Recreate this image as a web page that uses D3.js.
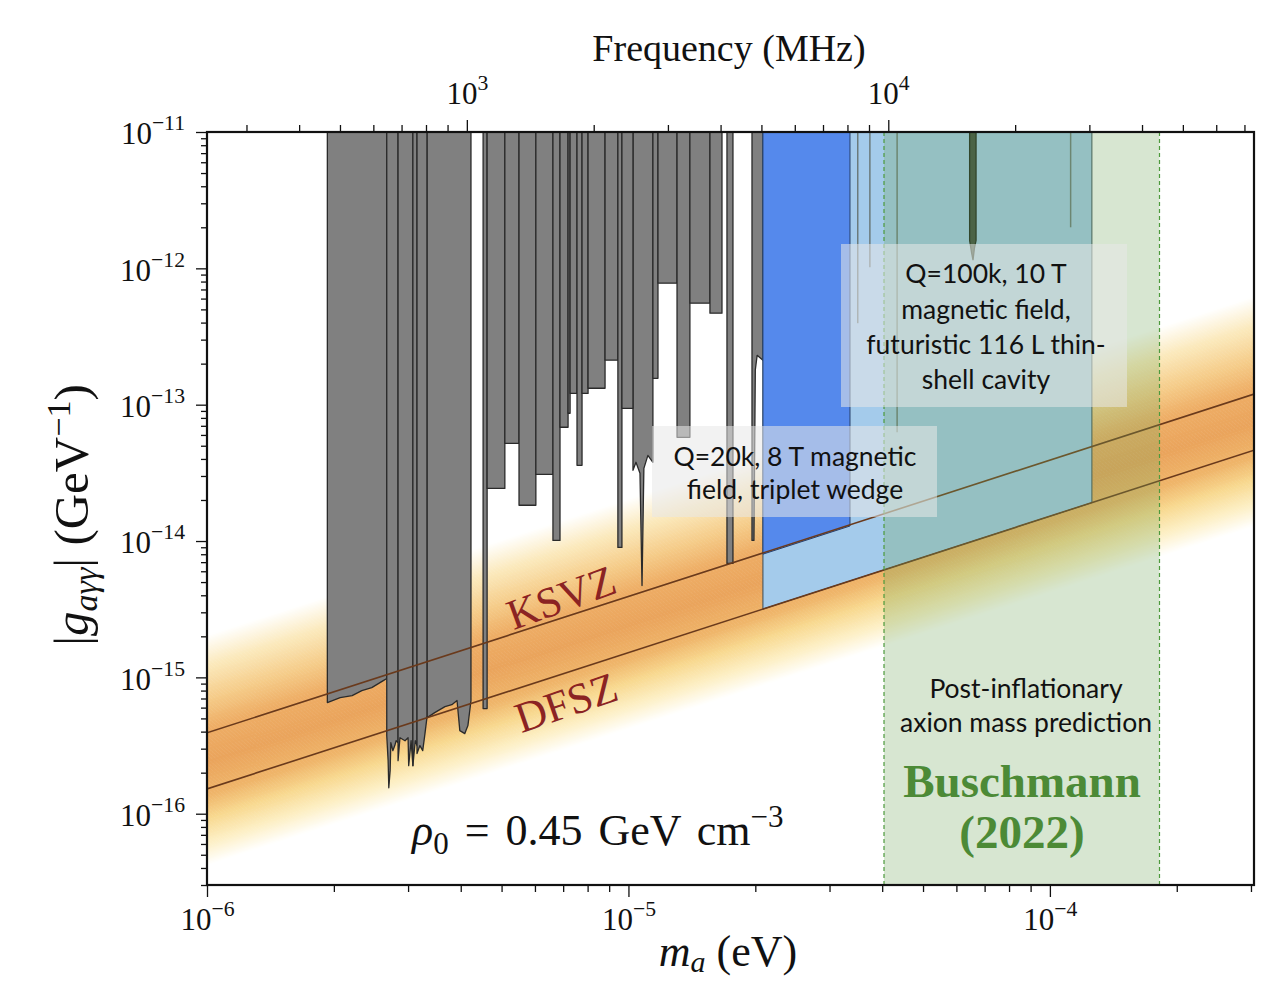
<!DOCTYPE html>
<html>
<head>
<meta charset="utf-8">
<script src="https://cdn.jsdelivr.net/npm/d3@7"></script>
<style>
  body { margin: 0; background: #fff; }
  svg { display: block; }
</style>
</head>
<body>
<script>
// ---- data ----
const massDomain = [1e-6, 3.05e-4];        // eV
const couplingDomain = [3e-17, 1e-11];     // GeV^-1
const mhzPerEV = 2.418e8;                  // frequency conversion

// QCD axion model lines, g at m = 1 ueV (g scales linearly with m)
const ksvzAt1ueV = 3.92e-16;
const dfszAt1ueV = 1.52e-16;

// gray haloscope exclusions: bottom edges [mass, g]
const admxA = [[1.93e-6, 6.53e-16], [2.07e-6, 7.11e-16], [2.21e-6, 7.35e-16], [2.33e-6, 8.0e-16],
               [2.46e-6, 8.41e-16], [2.62e-6, 9.47e-16], [2.67e-6, 9.8e-16]];
const admxB = [[2.67e-6, 3.74e-16], [2.69e-6, 2.45e-16], [2.70e-6, 1.55e-16], [2.72e-6, 2.07e-16],
               [2.73e-6, 3.32e-16], [2.76e-6, 2.9e-16], [2.79e-6, 3.16e-16], [2.81e-6, 3.43e-16], [2.84e-6, 3.32e-16]];
const admxC = [[2.84e-6, 2.45e-16], [2.87e-6, 3.61e-16], [2.95e-6, 3.43e-16], [3.0e-6, 3.61e-16],
               [3.01e-6, 2.25e-16], [3.05e-6, 3.43e-16], [3.08e-6, 2.25e-16]];
const admxD = [[3.08e-6, 2.25e-16], [3.12e-6, 3.43e-16], [3.15e-6, 3.16e-16]];
const admxE = [[3.15e-6, 2.76e-16], [3.2e-6, 3.16e-16], [3.25e-6, 2.9e-16], [3.29e-6, 3.87e-16], [3.33e-6, 5.24e-16]];
const admxF = [[3.33e-6, 5.07e-16], [3.47e-6, 5.51e-16], [3.67e-6, 6.1e-16], [3.81e-6, 6.3e-16], [3.92e-6, 6.76e-16],
               [3.98e-6, 4.07e-16], [4.09e-6, 3.87e-16], [4.16e-6, 4.43e-16], [4.23e-6, 6.76e-16]];
const cappNoisy = [[1.025e-5, 3.3e-14], [1.042e-5, 3.78e-14], [1.065e-5, 3.14e-14], [1.077e-5, 4.72e-15],
                   [1.088e-5, 3.41e-14], [1.112e-5, 4.25e-14], [1.143e-5, 3.78e-14]];
const haystacEdge = [[1.964e-5, 1.01e-14], [1.985e-5, 1.01e-14], [2.0e-5, 1.8e-13], [2.02e-5, 2.3e-13], [2.085e-5, 2.12e-13]];
const organSpike = [[6.45e-5, 1.6e-12], [6.52e-5, 1.3e-12], [6.57e-5, 1.15e-12], [6.62e-5, 1.4e-12], [6.68e-5, 1.6e-12]];

// flat-bottomed exclusions: [mass from, mass to, g]
const stepLimits = [
  [4.52e-6, 4.62e-6, 5.9e-16],
  [4.62e-6, 5.09e-6, 2.43e-14], [5.09e-6, 5.50e-6, 5.21e-14], [5.50e-6, 6.03e-6, 1.83e-14],
  [6.03e-6, 6.62e-6, 3.08e-14], [6.62e-6, 6.88e-6, 1.01e-14], [6.88e-6, 7.19e-6, 6.83e-14],
  [7.19e-6, 7.27e-6, 8.65e-14], [7.27e-6, 7.55e-6, 1.21e-13], [7.55e-6, 7.76e-6, 3.59e-14],
  [7.76e-6, 8.02e-6, 1.21e-13], [8.02e-6, 8.80e-6, 1.32e-13], [8.80e-6, 9.44e-6, 2.12e-13],
  [9.44e-6, 9.65e-6, 8.97e-15], [9.65e-6, 1.025e-5, 9.41e-14], [1.143e-5, 1.175e-5, 1.56e-13],
  [1.175e-5, 1.304e-5, 7.79e-13], [1.304e-5, 1.399e-5, 5.76e-14], [1.399e-5, 1.561e-5, 5.55e-13],
  [1.561e-5, 1.667e-5, 4.69e-13], [1.713e-5, 1.770e-5, 6.85e-15]
];

// narrow limits seen through the projections: [mass, g]
const thinLimits = [[3.50e-5, 3.96e-13], [3.74e-5, 1.02e-12], [4.34e-5, 6.27e-14], [1.12e-4, 2.0e-12]];

// projected reaches and mass prediction: [mass from, mass to]
const q20kRange = [2.085e-5, 3.355e-5];     // reaches KSVZ
const q100kRange = [2.085e-5, 1.258e-4];    // reaches DFSZ
const buschmannRange = [4.04e-5, 1.82e-4];

// band colour stops, offset in decades above the DFSZ line
const bandOffsets = [-0.56, -0.4, -0.22, -0.05, 0.2, 0.45, 0.65, 0.9, 1.13];

// ---- layout ----
const width = 1282, height = 985;
const pL = 207, pR = 1254, pT = 132, pB = 885;

const x = d3.scaleLog().domain(massDomain).range([pL, pR]);
const y = d3.scaleLog().domain(couplingDomain).range([pB, pT]);
const xf = d3.scaleLog().domain(massDomain.map(m => m * mhzPerEV)).range([pL, pR]);

const gTop = couplingDomain[1];
const ksvz = m => ksvzAt1ueV * m / 1e-6;
const dfsz = m => dfszAt1ueV * m / 1e-6;

const svg = d3.select("body").append("svg")
    .attr("width", width)
    .attr("height", height)
    .style("font-family", "'Liberation Serif', serif");

svg.append("clipPath").attr("id", "plot")
  .append("rect").attr("x", pL).attr("y", pT).attr("width", pR - pL).attr("height", pB - pT);

const plot = svg.append("g").attr("clip-path", "url(#plot)");

// QCD band as thin strips parallel to the model lines
const bandColor = d3.scaleLinear()
    .domain(bandOffsets)
    .range(["#ffffff", "#fdf0c6", "#f8d990", "#efb56a", "#eaa45c", "#eeae66", "#f5cb88", "#fbe9bb", "#ffffff"]);
const stripStep = 0.01;
const strips = d3.range(bandOffsets[0], bandOffsets[bandOffsets.length - 1], stripStep);
const [m0, m1] = massDomain;
plot.append("g").selectAll("path")
  .data(strips)
  .join("path")
    .attr("d", o => {
      const lo = Math.pow(10, o), hi = Math.pow(10, o + stripStep + 0.004);
      return `M${x(m0)},${y(dfsz(m0) * lo)}L${x(m1)},${y(dfsz(m1) * lo)}L${x(m1)},${y(dfsz(m1) * hi)}L${x(m0)},${y(dfsz(m0) * hi)}Z`;
    })
    .attr("fill", o => bandColor(o + stripStep / 2));

// gray exclusions
const line = d3.line().x(d => x(d[0])).y(d => y(d[1]));
const closeToTop = pts => [[pts[0][0], gTop], ...pts, [pts[pts.length - 1][0], gTop]];
const grayShapes = [admxA, admxB, admxC, admxD, admxE, admxF, cappNoisy, haystacEdge]
  .concat(stepLimits.map(s => [[s[0], s[2]], [s[1], s[2]]]));

plot.append("g").selectAll("path")
  .data(grayShapes)
  .join("path")
    .attr("d", d => line(closeToTop(d)) + "Z")
    .attr("fill", "#808080")
    .attr("stroke", "#2a2a2a")
    .attr("stroke-width", 1.3)
    .attr("stroke-linejoin", "round");

// projected reaches (light: DFSZ, dark: KSVZ)
const reachPath = (range, fn) => {
  const pts = [[range[0], gTop], [range[0], fn(range[0])], [range[1], fn(range[1])], [range[1], gTop]];
  return line(pts) + "Z";
};
plot.append("path")
    .attr("d", reachPath(q100kRange, dfsz))
    .attr("fill", "#a4cbeb")
    .attr("stroke", "#3a4a55")
    .attr("stroke-width", 1);
plot.append("path")
    .attr("d", reachPath(q20kRange, m => ksvz(m) * 0.98))
    .attr("fill", "#5589ec")
    .attr("stroke", "#27406a")
    .attr("stroke-width", 1);

// narrow limits inside the projections
plot.append("g").selectAll("line")
  .data(thinLimits)
  .join("line")
    .attr("x1", d => x(d[0])).attr("x2", d => x(d[0]))
    .attr("y1", y(gTop)).attr("y2", d => y(d[1]))
    .attr("stroke", "#6b7a7a")
    .attr("stroke-width", 1.5);
plot.append("path")
    .attr("d", line(closeToTop(organSpike)) + "Z")
    .attr("fill", "#3e4a3e")
    .attr("stroke", "#1a221a")
    .attr("stroke-width", 1.3);

// KSVZ and DFSZ lines
plot.append("g").selectAll("line")
  .data([ksvz, dfsz])
  .join("line")
    .attr("x1", x(m0)).attr("y1", f => y(f(m0)))
    .attr("x2", x(m1)).attr("y2", f => y(f(m1)))
    .attr("stroke", "#6a3a1c")
    .attr("stroke-width", 1.6);

// Buschmann (2022) post-inflationary prediction
plot.append("rect")
    .attr("x", x(buschmannRange[0]))
    .attr("width", x(buschmannRange[1]) - x(buschmannRange[0]))
    .attr("y", pT).attr("height", pB - pT)
    .attr("fill", "rgb(112,166,88)")
    .attr("fill-opacity", 0.28);
plot.append("g").selectAll("line")
  .data(buschmannRange)
  .join("line")
    .attr("x1", d => x(d)).attr("x2", d => x(d))
    .attr("y1", pT).attr("y2", pB)
    .attr("stroke", "#4d9a3d")
    .attr("stroke-width", 1.2)
    .attr("stroke-dasharray", "4,3");

// model labels
const modelLabel = (txt, cx, cy, rot) => svg.append("text")
    .attr("transform", `translate(${cx},${cy}) rotate(${rot})`)
    .attr("text-anchor", "middle")
    .attr("dy", "0.35em")
    .attr("font-size", 43)
    .attr("fill", "#8b2323")
    .text(txt);
modelLabel("KSVZ", 561, 597, -20);
modelLabel("DFSZ", 566, 702, -19);

// annotation boxes
const note = (lines, cx, cy, lh, box) => {
  if (box) {
    svg.append("rect")
        .attr("x", box[0]).attr("y", box[1]).attr("width", box[2]).attr("height", box[3])
        .attr("fill", "#e8e8e8").attr("fill-opacity", 0.55);
  }
  svg.append("g").selectAll("text")
    .data(lines)
    .join("text")
      .attr("x", cx)
      .attr("y", (d, i) => cy + i * lh)
      .attr("dy", "0.35em")
      .attr("text-anchor", "middle")
      .attr("font-family", "Lato, 'Open Sans', sans-serif")
      .attr("font-size", 26.5)
      .attr("fill", "#111")
      .text(d => d);
};
note(["Q=100k, 10 T", "magnetic field,", "futuristic 116 L thin-", "shell cavity"], 986, 274, 35.3, [841, 244, 286, 163]);
note(["Q=20k, 8 T magnetic", "field, triplet wedge"], 795, 457, 33, [652, 426, 285, 91]);
note(["Post-inflationary", "axion mass prediction"], 1026, 689, 34, null);

svg.append("g").selectAll("text")
  .data(["Buschmann", "(2022)"])
  .join("text")
    .attr("x", 1022)
    .attr("y", (d, i) => 781 + i * 51)
    .attr("dy", "0.35em")
    .attr("text-anchor", "middle")
    .attr("font-weight", "bold")
    .attr("font-size", 47)
    .attr("fill", "#4c8a36")
    .text(d => d);

// rho_0 annotation
const rho = svg.append("text").attr("x", 412).attr("y", 845).attr("font-size", 44).attr("fill", "#111");
rho.append("tspan").attr("font-style", "italic").text("ρ");
rho.append("tspan").attr("font-size", 31).attr("dy", 9).text("0");
rho.append("tspan").attr("dy", -9).attr("word-spacing", 5).text(" = 0.45 GeV cm");
rho.append("tspan").attr("font-size", 31).attr("dy", -18).text("−3");

// ---- axes ----
const decadeTicks = (lo, hi) => {
  const out = [];
  for (let e = Math.floor(Math.log10(lo)); e <= Math.ceil(Math.log10(hi)); e++) {
    for (let k = 1; k <= 9; k++) {
      const v = k * Math.pow(10, e);
      if (v >= lo * 0.999 && v <= hi * 1.001) out.push(v);
    }
  }
  return out;
};
const isMajor = v => Math.abs(Math.log10(v) - Math.round(Math.log10(v))) < 1e-6;

const axisStyle = g => {
  g.select(".domain").remove();
  g.selectAll(".tick line").attr("stroke", "#111").attr("stroke-width", 1.3);
};
const powerLabel = (g, fontSize) => {
  g.selectAll(".tick text").each(function (d) {
    const t = d3.select(this).text(null).attr("font-size", fontSize).attr("fill", "#111")
        .attr("font-family", "'Liberation Serif', serif");
    if (!isMajor(d)) return;
    const e = Math.round(Math.log10(d));
    t.append("tspan").text("10");
    t.append("tspan").attr("font-size", fontSize * 0.7).attr("dy", -fontSize * 0.45)
        .text(e < 0 ? "−" + (-e) : String(e));
  });
};

const xTicks = decadeTicks(...massDomain);
const yTicks = decadeTicks(...couplingDomain);
const fTicks = decadeTicks(...massDomain.map(m => m * mhzPerEV));

// bottom
svg.append("g").attr("transform", `translate(0,${pB})`)
    .call(d3.axisBottom(x).tickValues(xTicks.filter(v => !isMajor(v))).tickSize(7).tickFormat(""))
    .call(axisStyle);
svg.append("g").attr("transform", `translate(0,${pB})`)
    .call(d3.axisBottom(x).tickValues(xTicks.filter(isMajor)).tickSize(12).tickPadding(10))
    .call(axisStyle)
    .call(g => powerLabel(g, 31))
    .call(g => g.selectAll(".tick text").attr("dy", "0.75em"));

// left
svg.append("g").attr("transform", `translate(${pL},0)`)
    .call(d3.axisLeft(y).tickValues(yTicks.filter(v => !isMajor(v))).tickSize(6).tickFormat(""))
    .call(axisStyle);
svg.append("g").attr("transform", `translate(${pL},0)`)
    .call(d3.axisLeft(y).tickValues(yTicks.filter(isMajor)).tickSize(11).tickPadding(11))
    .call(axisStyle)
    .call(g => powerLabel(g, 31))
    .call(g => g.selectAll(".tick text").attr("dy", "0.38em"));

// top (frequency)
svg.append("g").attr("transform", `translate(0,${pT})`)
    .call(d3.axisTop(xf).tickValues(fTicks.filter(v => !isMajor(v))).tickSize(7).tickFormat(""))
    .call(axisStyle);
svg.append("g").attr("transform", `translate(0,${pT})`)
    .call(d3.axisTop(xf).tickValues(fTicks.filter(isMajor)).tickSize(12).tickPadding(16))
    .call(axisStyle)
    .call(g => powerLabel(g, 31));

// frame
svg.append("rect")
    .attr("x", pL).attr("y", pT).attr("width", pR - pL).attr("height", pB - pT)
    .attr("fill", "none").attr("stroke", "#111").attr("stroke-width", 2.2);

// axis titles
svg.append("text")
    .attr("x", 729).attr("y", 61)
    .attr("text-anchor", "middle")
    .attr("font-size", 38)
    .attr("fill", "#111")
    .text("Frequency (MHz)");

const xl = svg.append("text").attr("x", 728).attr("y", 966).attr("text-anchor", "middle")
    .attr("font-size", 44).attr("fill", "#111");
xl.append("tspan").attr("font-style", "italic").text("m");
xl.append("tspan").attr("font-style", "italic").attr("font-size", 30).attr("dy", 6).text("a");
xl.append("tspan").attr("dy", -6).text(" (eV)");

const yl = svg.append("text")
    .attr("transform", "translate(88,515) rotate(-90)")
    .attr("text-anchor", "middle")
    .attr("font-size", 49)
    .attr("fill", "#111");
yl.append("tspan").text("|");
yl.append("tspan").attr("font-style", "italic").text("g");
yl.append("tspan").attr("font-style", "italic").attr("font-size", 34).attr("dy", 9).text("aγγ");
yl.append("tspan").attr("dy", -9).text("| (GeV");
yl.append("tspan").attr("font-size", 34).attr("dy", -18).text("−1");
yl.append("tspan").attr("dy", 18).text(")");
</script>
</body>
</html>
